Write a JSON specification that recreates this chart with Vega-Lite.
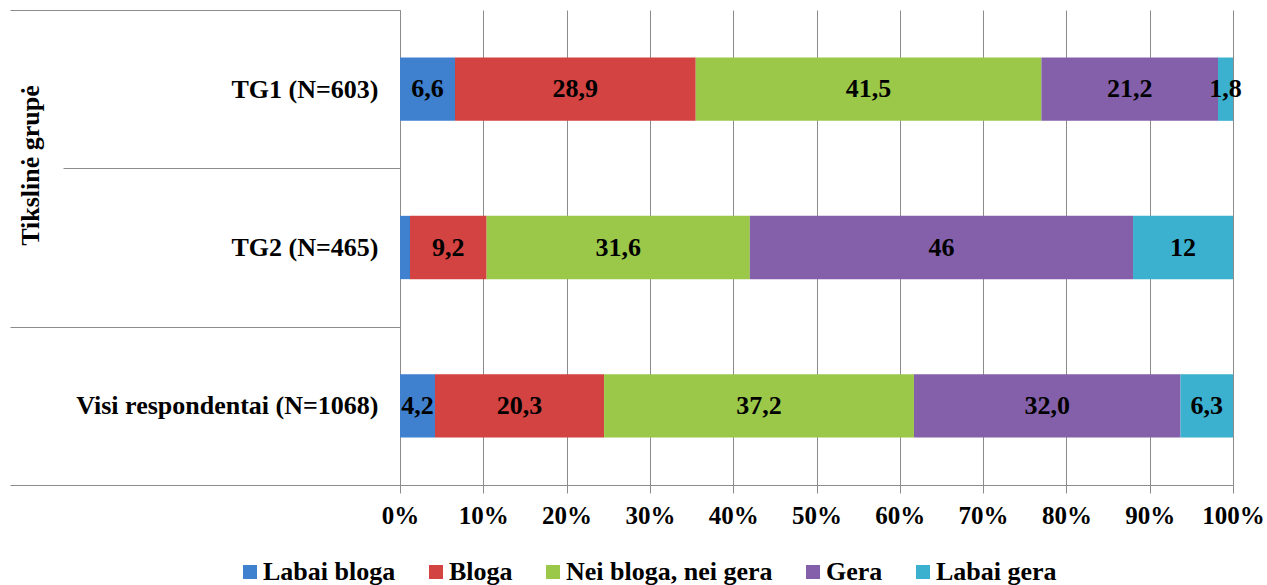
{
  "$schema": "https://vega.github.io/schema/vega-lite/v6.json",
  "autosize": {"type": "none"},
  "width": 833,
  "height": 475,
  "padding": {"left": 400, "top": 10, "right": 34, "bottom": 100},
  "background": "white",
  "config": {
    "view": {"stroke": null},
    "font": "Liberation Serif"
  },
  "data": {
    "values": [
      {"group": "TG1 (N=603)", "resp": "Labai bloga", "idx": 1, "value": 6.6, "label": "6,6"},
      {"group": "TG1 (N=603)", "resp": "Bloga", "idx": 2, "value": 28.9, "label": "28,9"},
      {"group": "TG1 (N=603)", "resp": "Nei bloga, nei gera", "idx": 3, "value": 41.5, "label": "41,5"},
      {"group": "TG1 (N=603)", "resp": "Gera", "idx": 4, "value": 21.2, "label": "21,2"},
      {"group": "TG1 (N=603)", "resp": "Labai gera", "idx": 5, "value": 1.8, "label": "1,8"},
      {"group": "TG2 (N=465)", "resp": "Labai bloga", "idx": 1, "value": 1.2, "label": ""},
      {"group": "TG2 (N=465)", "resp": "Bloga", "idx": 2, "value": 9.2, "label": "9,2"},
      {"group": "TG2 (N=465)", "resp": "Nei bloga, nei gera", "idx": 3, "value": 31.6, "label": "31,6"},
      {"group": "TG2 (N=465)", "resp": "Gera", "idx": 4, "value": 46, "label": "46"},
      {"group": "TG2 (N=465)", "resp": "Labai gera", "idx": 5, "value": 12, "label": "12"},
      {"group": "Visi respondentai (N=1068)", "resp": "Labai bloga", "idx": 1, "value": 4.2, "label": "4,2"},
      {"group": "Visi respondentai (N=1068)", "resp": "Bloga", "idx": 2, "value": 20.3, "label": "20,3"},
      {"group": "Visi respondentai (N=1068)", "resp": "Nei bloga, nei gera", "idx": 3, "value": 37.2, "label": "37,2"},
      {"group": "Visi respondentai (N=1068)", "resp": "Gera", "idx": 4, "value": 32.0, "label": "32,0"},
      {"group": "Visi respondentai (N=1068)", "resp": "Labai gera", "idx": 5, "value": 6.3, "label": "6,3"}
    ]
  },
  "encoding": {
    "y": {
      "field": "group",
      "type": "nominal",
      "sort": ["TG1 (N=603)", "TG2 (N=465)", "Visi respondentai (N=1068)"],
      "scale": {"paddingInner": 0, "paddingOuter": 0},
      "axis": {
        "title": "Tikslinė grupė",
        "titleFont": "Liberation Serif",
        "titleFontSize": 26,
        "titleFontWeight": "bold",
        "titleColor": "black",
        "titleAngle": 270,
        "titleX": -362,
        "titleY": 155,
        "titleAlign": "center",
        "titleBaseline": "alphabetic",
        "labelFont": "Liberation Serif",
        "labelFontSize": 26,
        "labelFontWeight": "bold",
        "labelColor": "black",
        "labelLimit": 0,
        "tickBand": "extent",
        "tickColor": "#8c8c8c",
        "tickWidth": 1,
        "tickSize": {"condition": {"test": "datum.value == 'TG1 (N=603)'", "value": 337}, "value": 390},
        "labelPadding": {"condition": {"test": "datum.value == 'TG1 (N=603)'", "value": -315}, "value": -368},
        "domainColor": "#8c8c8c",
        "domainWidth": 1,
        "grid": false
      }
    }
  },
  "layer": [
    {
      "mark": {"type": "bar", "height": {"band": 0.4}},
      "encoding": {
        "x": {
          "field": "value",
          "type": "quantitative",
          "stack": "zero",
          "scale": {"domain": [0, 100], "nice": false},
          "axis": {
            "title": null,
            "values": [0, 10, 20, 30, 40, 50, 60, 70, 80, 90, 100],
            "labelExpr": "datum.value + '%'",
            "labelOverlap": false,
            "labelFlush": false,
            "labelFont": "Liberation Serif",
            "labelFontSize": 25,
            "labelFontWeight": "bold",
            "labelColor": "black",
            "labelPadding": 10,
            "tickSize": 8,
            "tickColor": "#8c8c8c",
            "domainColor": "#8c8c8c",
            "grid": true,
            "gridColor": "#8c8c8c",
            "gridWidth": 1
          }
        },
        "color": {
          "field": "resp",
          "type": "nominal",
          "scale": {
            "domain": ["Labai bloga", "Bloga", "Nei bloga, nei gera", "Gera", "Labai gera"],
            "range": ["#3f80cf", "#d24341", "#9cc84a", "#8460aa", "#3bb1cf"]
          },
          "legend": {
            "title": null,
            "orient": "none",
            "direction": "horizontal",
            "legendX": -163,
            "legendY": 549,
            "symbolType": "square",
            "symbolSize": 196,
            "symbolStrokeWidth": 0,
            "labelFont": "Liberation Serif",
            "labelFontSize": 26,
            "labelFontWeight": "bold",
            "labelColor": "black",
            "labelLimit": 0,
            "labelOffset": 0,
            "columnPadding": 27
          }
        },
        "order": {"field": "idx", "type": "quantitative"}
      }
    },
    {
      "mark": {"type": "text", "font": "Liberation Serif", "fontSize": 26, "fontWeight": "bold", "color": "black", "baseline": "middle", "align": "center"},
      "encoding": {
        "x": {"field": "value", "type": "quantitative", "stack": "zero", "bandPosition": 0.5},
        "detail": {"field": "resp", "type": "nominal"},
        "order": {"field": "idx", "type": "quantitative"},
        "text": {"field": "label", "type": "nominal"}
      }
    }
  ]
}
